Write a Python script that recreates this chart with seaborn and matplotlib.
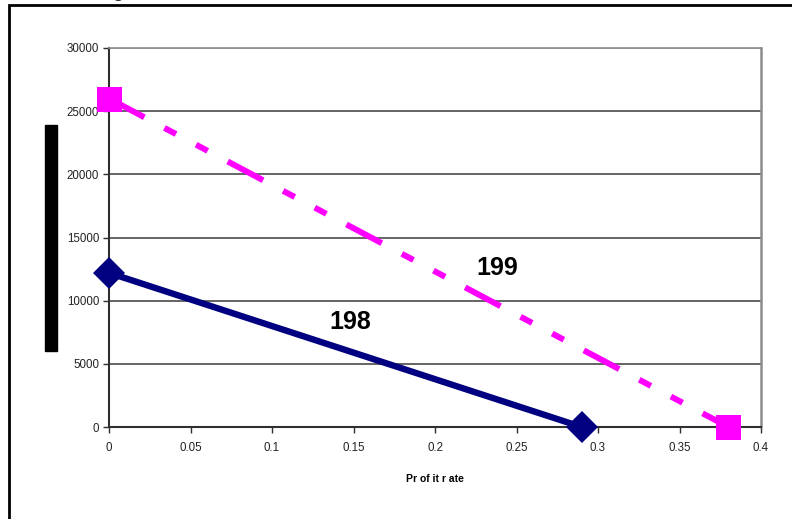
import numpy as np
import pandas as pd
import seaborn as sns
import matplotlib.pyplot as plt
from matplotlib.patches import Rectangle

# values
rate_198 = [0.0, 0.29]
wage_198 = [12200, 0]
rate_199 = [0.0, 0.38]
wage_199 = [26000, 0]
xticks = [0, 0.05, 0.1, 0.15, 0.2, 0.25, 0.3, 0.35, 0.4]
xtick_labels = ['0', '0.05', '0.1', '0.15', '0.2', '0.25', '0.3', '0.35', '0.4']
yticks = [0, 5000, 10000, 15000, 20000, 25000, 30000]

df198 = pd.DataFrame({'rate': rate_198, 'wage': wage_198})
df199 = pd.DataFrame({'rate': rate_199, 'wage': wage_199})

sns.set_style('white')
plt.rcParams['font.family'] = ['Liberation Sans', 'DejaVu Sans']

fig = plt.figure(figsize=(7.92, 5.19), dpi=100)
ax = fig.add_axes([109 / 792, 1 - 427 / 519, 652 / 792, 379 / 519])

ax.grid(False)
for y in yticks[1:]:
    ax.axhline(y, color='#3a3a3a' if y < 30000 else '#8c8c8c', lw=1.1, zorder=1)

sns.lineplot(data=df198, x='rate', y='wage', ax=ax, color='#000080', lw=4.6,
             marker='D', markersize=16, markeredgewidth=0, zorder=3, clip_on=False)
sns.lineplot(data=df199, x='rate', y='wage', ax=ax, color='#FF00FF', lw=4.3,
             dashes=False, marker='s', markersize=18, markeredgewidth=0, zorder=3,
             clip_on=False)
ax.lines[-1].set_dashes((6.7, 3.8, 2.2, 3.8, 2.2, 3.8))
ax.lines[-1].set_dash_capstyle('butt')

ax.text(0.148, 8300, '198', fontsize=18, fontweight='bold', color='black',
        ha='center', va='center')
ax.text(0.238, 12600, '199', fontsize=18, fontweight='bold', color='black',
        ha='center', va='center')

ax.set_xlim(0, 0.4)
ax.set_ylim(0, 30000)
ax.set_xticks(xticks)
ax.set_xticklabels(xtick_labels)
ax.set_yticks(yticks)
ax.set_yticklabels([str(v) for v in yticks])
ax.tick_params(axis='both', direction='out', length=4, width=1, color='#303030',
               labelsize=8.3, labelcolor='#222222', pad=3, left=True, bottom=True)
ax.tick_params(axis='x', pad=7)
ax.set_xlabel('Pr of it r ate', fontsize=7.5, fontweight='bold', color='black',
              labelpad=14)
ax.set_ylabel('')

ax.spines['left'].set_color('#303030')
ax.spines['left'].set_linewidth(1.5)
ax.spines['bottom'].set_color('#303030')
ax.spines['bottom'].set_linewidth(1.5)
ax.spines['right'].set_color('#8c8c8c')
ax.spines['right'].set_linewidth(1.8)
ax.spines['top'].set_color('#8c8c8c')
ax.spines['top'].set_linewidth(1.2)
for sp in ax.spines.values():
    sp.set_zorder(2)

# outer chart frame (runs off the right and bottom edges)
fig.patches.append(Rectangle((9 / 792, -0.05), 1.0, 1 - 5 / 519 + 0.05,
                             transform=fig.transFigure, fill=False,
                             edgecolor='black', lw=2))
# y axis title rendered as a solid black bar
fig.patches.append(Rectangle((45 / 792, 1 - 351 / 519), 12 / 792, 226 / 519,
                             transform=fig.transFigure, color='black'))
# clipped chart title
fig.text(118 / 792, 1.005, 'g', fontsize=13, fontweight='bold',
         ha='center', va='baseline')

fig.savefig('out.png', dpi=100)
